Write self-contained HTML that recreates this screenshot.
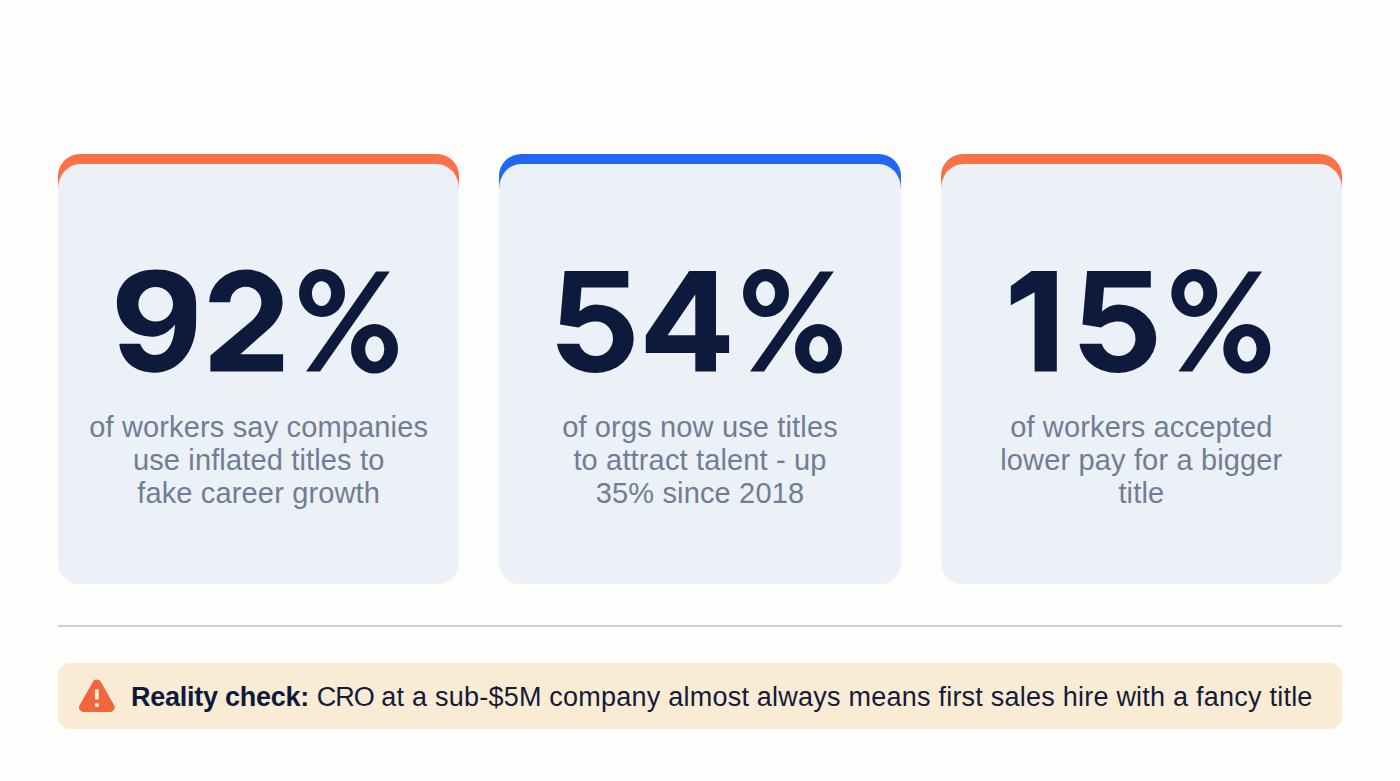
<!DOCTYPE html>
<html>
<head>
<meta charset="utf-8">
<style>
html,body{margin:0;padding:0;}
body{width:1400px;height:781px;background:#FDFDFB;position:relative;overflow:hidden;font-family:"Liberation Sans",sans-serif;}
.cards{position:absolute;left:58px;top:154px;width:1284px;height:430px;display:flex;gap:40px;}
.card{flex:1;position:relative;}
.card::before{content:"";position:absolute;left:0;right:0;top:0;height:60px;background:#FB7147;border-radius:22px 22px 0 0;}
.card::after{content:"";position:absolute;left:0;right:0;top:10px;bottom:0;background:#ECF0F7;border-radius:22px 22px 21px 21px / 25px 25px 21px 21px;}
.card.blue::before{background:#2366F6;}
.sub{position:absolute;left:0;right:0;z-index:1;top:257px;text-align:center;font-size:29px;line-height:32.8px;letter-spacing:0.15px;color:#6F7E94;}
.divider{position:absolute;left:58px;top:625px;width:1284px;height:2px;background:#C6CFDC;}
.callout{position:absolute;left:58px;top:663px;width:1284px;height:66px;background:#FAECD4;border-radius:12px;}
.ctext{position:absolute;left:131px;top:682px;font-size:27px;line-height:30px;letter-spacing:0.23px;color:#131C38;white-space:nowrap;}
.ctext b{color:#0E1A3C;letter-spacing:-0.25px;}
</style>
</head>
<body>
<div class="cards">
  <div class="card"><div class="sub">of workers say companies<br>use inflated titles to<br>fake career growth</div></div>
  <div class="card blue"><div class="sub">of orgs now use titles<br>to attract talent - up<br>35% since 2018</div></div>
  <div class="card"><div class="sub">of workers accepted<br>lower pay for a bigger<br>title</div></div>
</div>
<svg class="nums" width="1400" height="781" viewBox="0 0 1400 781" style="position:absolute;left:0;top:0;">
<g fill="#0E1A3C" fill-rule="evenodd">
<path d="M119.3,343.8 L140.1,343.8 C143,351 148,354.9 155,354.9 C166,354.9 174,346 175,324.5 C169,332 161,336.7 153,336.7 C131,336.7 116.9,323 116.9,303 C116.9,282.5 132.5,269.5 156.5,269.5 C180.5,269.5 196.1,283 196.1,303 L196.1,322 C196.1,352 178,372.7 154.5,372.7 C135,372.7 121,361 119.3,343.8 Z M138.4,304.2 A17.3,17.3 0 1 0 173,304.2 A17.3,17.3 0 1 0 138.4,304.2 Z"/>
<path d="M209.2,302.3 A36.7,32.7 0 0 1 245.9,269.6 A36.7,32.7 0 0 1 282.6,302.3 C282.6,312 278,320 271,327 L240.3,354.3 L283.1,354.3 L283.1,371.6 L210.4,371.6 L210.4,355.5 L251.5,321 C257.5,315.5 261.4,309 261.4,302.3 A15.6,15.5 0 0 0 230.2,302.3 Z"/>
<path d="M299,293 A23,24 0 1 0 345,293 A23,24 0 1 0 299,293 Z M311.9,293.6 A9.6,12.4 0 1 1 331.1,293.6 A9.6,12.4 0 1 1 311.9,293.6 Z M351,348.8 A23.5,24.8 0 1 0 398,348.8 A23.5,24.8 0 1 0 351,348.8 Z M365.1,349 A9.6,12.8 0 1 1 384.3,349 A9.6,12.8 0 1 1 365.1,349 Z M376,271.5 L389.8,271.5 L320,371.4 L306.1,371.4 Z"/>
<path d="M564.6,271.1 L628.3,271.1 L628.3,287.6 L581.5,287.6 L579.5,311.5 C584.5,307 590,304.5 596,304.5 A37.7,34.2 0 0 1 633.7,338.7 A37.7,34.2 0 0 1 596,372.9 C575,372.9 559.5,361 557,343.7 L579.2,343.7 C581.5,351 588,356 596,356 A17,17.3 0 0 0 613,338.7 A17,17.3 0 0 0 596,321.4 C589,321.4 583,324 578.4,327.6 L560,324.5 Z"/>
<path d="M689.2,271.1 L716,271.1 L716,335.3 L729.1,335.3 L729.1,352.9 L716,352.9 L716,371.4 L695.3,371.4 L695.3,352.9 L645.8,352.9 L645.8,335.3 Z M695.3,294.6 L667.6,335.3 L695.3,335.3 Z"/>
<path d="M299,293 A23,24 0 1 0 345,293 A23,24 0 1 0 299,293 Z M311.9,293.6 A9.6,12.4 0 1 1 331.1,293.6 A9.6,12.4 0 1 1 311.9,293.6 Z M351,348.8 A23.5,24.8 0 1 0 398,348.8 A23.5,24.8 0 1 0 351,348.8 Z M365.1,349 A9.6,12.8 0 1 1 384.3,349 A9.6,12.8 0 1 1 365.1,349 Z M376,271.5 L389.8,271.5 L320,371.4 L306.1,371.4 Z" transform="translate(444,0)"/>
<path d="M1031.5,271.1 L1056.8,271.1 L1056.8,371.4 L1034.6,371.4 L1034.6,292.3 L1010.8,305.3 L1010.8,286.1 Z"/>
<path d="M564.6,271.1 L628.3,271.1 L628.3,287.6 L581.5,287.6 L579.5,311.5 C584.5,307 590,304.5 596,304.5 A37.7,34.2 0 0 1 633.7,338.7 A37.7,34.2 0 0 1 596,372.9 C575,372.9 559.5,361 557,343.7 L579.2,343.7 C581.5,351 588,356 596,356 A17,17.3 0 0 0 613,338.7 A17,17.3 0 0 0 596,321.4 C589,321.4 583,324 578.4,327.6 L560,324.5 Z" transform="translate(522.5,0)"/>
<path d="M299,293 A23,24 0 1 0 345,293 A23,24 0 1 0 299,293 Z M311.9,293.6 A9.6,12.4 0 1 1 331.1,293.6 A9.6,12.4 0 1 1 311.9,293.6 Z M351,348.8 A23.5,24.8 0 1 0 398,348.8 A23.5,24.8 0 1 0 351,348.8 Z M365.1,349 A9.6,12.8 0 1 1 384.3,349 A9.6,12.8 0 1 1 365.1,349 Z M376,271.5 L389.8,271.5 L320,371.4 L306.1,371.4 Z" transform="translate(872.3,0)"/>
</g>
</svg>
<div class="divider"></div>
<div class="callout"></div>
<svg width="46" height="44" viewBox="0 0 46 44" style="position:absolute;left:74px;top:674px;">
  <path d="M22.85 9.9 L36.2 33.4 L9.5 33.4 Z" fill="#F3653F" stroke="#F3653F" stroke-width="9" stroke-linejoin="round"/>
  <rect x="20.9" y="15.2" width="3.9" height="10.4" rx="1" fill="#FAECD4"/>
  <rect x="20.9" y="29" width="3.9" height="4" rx="1.3" fill="#FAECD4"/>
</svg>
<div class="ctext"><b>Reality check:</b> <span style="letter-spacing:-1.1px">CRO</span> at a sub-$5M company almost always means first sales hire with a fancy title</div>
</body>
</html>
